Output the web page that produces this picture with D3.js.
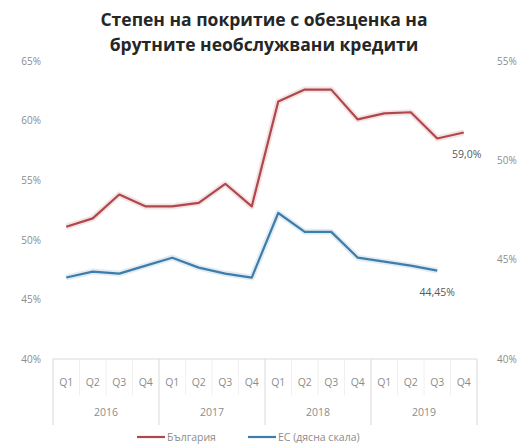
<!DOCTYPE html>
<html><head><meta charset="utf-8">
<script src="https://cdn.jsdelivr.net/npm/d3@7"></script>
<style>body{margin:0;background:#fff}svg{display:block}</style>
</head><body>
<svg id="c" width="525" height="447"></svg>
<script>
const quarters = ["Q1","Q2","Q3","Q4","Q1","Q2","Q3","Q4","Q1","Q2","Q3","Q4","Q1","Q2","Q3","Q4"];
const years = ["2016","2017","2018","2019"];
const bulgaria = [51.1,51.8,53.8,52.8,52.8,53.1,54.7,52.8,61.6,62.6,62.6,60.1,60.6,60.7,58.5,59.0];
const eu = [44.1,44.4,44.3,44.7,45.1,44.6,44.3,44.1,47.35,46.4,46.4,45.1,44.9,44.7,44.45];
const leftTicks = [40,45,50,55,60,65];
const rightTicks = [40,45,50,55];
const title = ["Степен на покритие с обезценка на","брутните необслужвани кредити"];
const legendNames = ["България","ЕС (дясна скала)"];
const lastLabels = ["59,0%","44,45%"];

const svg = d3.select("#c");
const red = "#b0474c", blue = "#3d7dab", grey = "#8c8c8c";
const font = "'Open Sans', 'Noto Sans', sans-serif";

const x = d3.scaleBand().domain(d3.range(quarters.length)).range([53, 477]);
const yL = d3.scaleLinear().domain([40,65]).range([359, 61]);
const yR = d3.scaleLinear().domain([40,55]).range([359, 61]);
const cx = i => x(i) + x.bandwidth()/2;

// title
svg.append("g").selectAll("text").data(title).join("text")
  .attr("x", 264).attr("y", (d,i)=>26 + i*25).attr("text-anchor","middle")
  .attr("font-family", font).attr("font-weight","bold").attr("font-size",17.5).attr("fill","#262626")
  .text(d=>d);

// left axis
const gl = svg.append("g").attr("transform","translate(41,0)")
  .call(d3.axisLeft(yL).tickValues(leftTicks).tickSize(0).tickPadding(0).tickFormat(d=>d+"%"));
gl.select(".domain").remove();
gl.selectAll("text").attr("font-family",font).attr("font-size",10).attr("fill",grey);

// right axis
const gr = svg.append("g").attr("transform","translate(497,0)")
  .call(d3.axisRight(yR).tickValues(rightTicks).tickSize(0).tickPadding(0).tickFormat(d=>d+"%"));
gr.select(".domain").remove();
gr.selectAll("text").attr("font-family",font).attr("font-size",10).attr("fill",grey);

// category axis
const lineCol = "#d9d9d9";
svg.append("line").attr("x1",53).attr("x2",477).attr("y1",359).attr("y2",359).attr("stroke",lineCol);
const sepIdx = [0,4,8,12,16];
svg.append("g").selectAll("line").data(sepIdx).join("line")
  .attr("x1", d=> d<16 ? x(d) : x(15)+x.bandwidth()).attr("x2", d=> d<16 ? x(d) : x(15)+x.bandwidth())
  .attr("y1",359).attr("y2",425).attr("stroke",lineCol);
svg.append("g").selectAll("line").data(d3.range(1,16).filter(i=>i%4)).join("line")
  .attr("x1", d=>x(d)).attr("x2", d=>x(d)).attr("y1",359).attr("y2",395).attr("stroke","#f0f0f0");
svg.append("g").selectAll("text").data(quarters).join("text")
  .attr("x",(d,i)=>cx(i)).attr("y",386).attr("text-anchor","middle")
  .attr("font-family",font).attr("font-size",10.5).attr("fill",grey).text(d=>d);
svg.append("g").selectAll("text").data(years).join("text")
  .attr("x",(d,i)=>(cx(i*4)+cx(i*4+3))/2).attr("y",416).attr("text-anchor","middle")
  .attr("font-family",font).attr("font-size",10.5).attr("fill",grey).text(d=>d);

// lines
const lineL = d3.line().x((d,i)=>cx(i)).y(d=>yL(d));
const lineR = d3.line().x((d,i)=>cx(i)).y(d=>yR(d));
function drawLine(data, gen, col){
  svg.append("path").attr("d",gen(data)).attr("fill","none").attr("stroke",col)
    .attr("stroke-opacity",0.15).attr("stroke-width",6).attr("stroke-linejoin","round");
  svg.append("path").attr("d",gen(data)).attr("fill","none").attr("stroke",col)
    .attr("stroke-width",2.2).attr("stroke-linejoin","round");
}
drawLine(bulgaria, lineL, red);
drawLine(eu, lineR, blue);

// end labels
const lb = bulgaria.length-1, le = eu.length-1;
svg.append("text").attr("x",cx(lb)+3).attr("y",yL(bulgaria[lb])+25).attr("text-anchor","middle")
  .attr("font-family",font).attr("font-size",10.5).attr("fill","#595959").text(lastLabels[0]);
svg.append("text").attr("x",cx(le)).attr("y",yR(eu[le])+25).attr("text-anchor","middle")
  .attr("font-family",font).attr("font-size",10.5).attr("fill","#595959").text(lastLabels[1]);

// legend
const leg = [{n:legendNames[0],c:red,x:137},{n:legendNames[1],c:blue,x:248}];
const lg = svg.append("g").selectAll("g").data(leg).join("g").attr("transform",d=>`translate(${d.x},437)`);
lg.append("line").attr("x1",0).attr("x2",28).attr("y1",0).attr("y2",0).attr("stroke",d=>d.c).attr("stroke-width",2.2);
lg.append("text").attr("x",30).attr("y",4).attr("font-family",font).attr("font-size",10.5).attr("fill",grey).text(d=>d.n);
</script>
</body></html>
